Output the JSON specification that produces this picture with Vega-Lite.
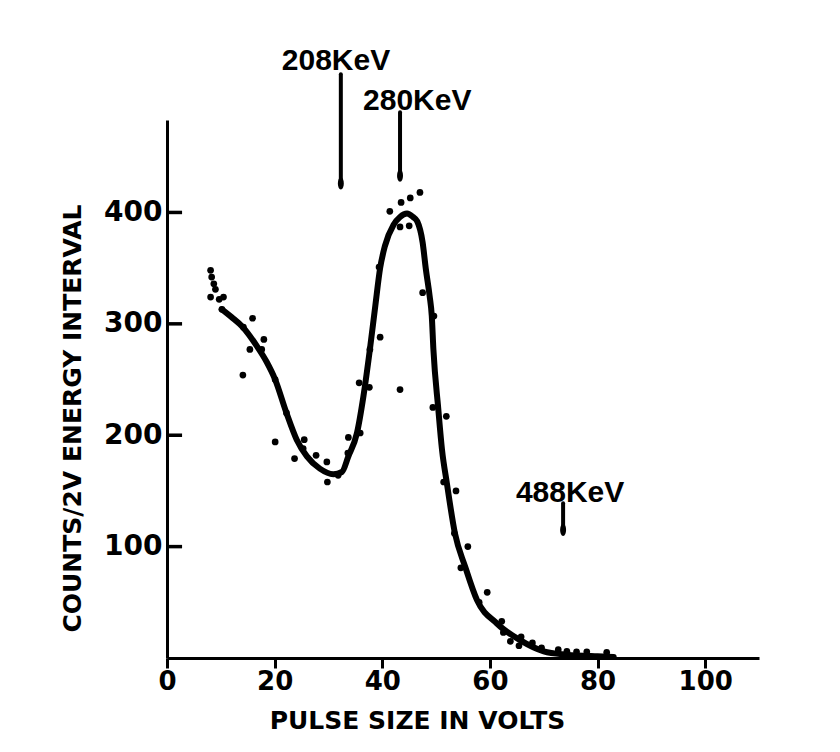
{
  "$schema": "https://vega.github.io/schema/vega-lite/v6.json",
  "width": 592,
  "height": 538,
  "autosize": "none",
  "padding": {"left": 167, "top": 120, "right": 81, "bottom": 94},
  "background": "white",
  "config": {"view": {"stroke": null}},
  "datasets": {
    "points": [
      {"x": 8.1, "y": 348}, {"x": 8.3, "y": 342}, {"x": 8.7, "y": 336}, {"x": 9.0, "y": 331},
      {"x": 8.1, "y": 324}, {"x": 9.7, "y": 322}, {"x": 10.5, "y": 324}, {"x": 10.2, "y": 313},
      {"x": 14.2, "y": 297}, {"x": 15.9, "y": 305}, {"x": 15.4, "y": 277}, {"x": 17.6, "y": 277},
      {"x": 18.0, "y": 286}, {"x": 14.1, "y": 254}, {"x": 20.1, "y": 250}, {"x": 22.2, "y": 220},
      {"x": 20.1, "y": 194}, {"x": 25.5, "y": 196}, {"x": 25.3, "y": 188}, {"x": 23.7, "y": 179},
      {"x": 27.7, "y": 182}, {"x": 29.7, "y": 176}, {"x": 29.8, "y": 158}, {"x": 31.8, "y": 164},
      {"x": 33.6, "y": 184}, {"x": 33.7, "y": 198}, {"x": 35.9, "y": 202}, {"x": 35.7, "y": 247},
      {"x": 37.6, "y": 243}, {"x": 37.7, "y": 277}, {"x": 39.6, "y": 288}, {"x": 39.4, "y": 351},
      {"x": 43.3, "y": 241}, {"x": 41.4, "y": 401}, {"x": 43.5, "y": 409}, {"x": 45.2, "y": 413},
      {"x": 47.0, "y": 418}, {"x": 43.3, "y": 387}, {"x": 45.0, "y": 388}, {"x": 47.5, "y": 328},
      {"x": 49.6, "y": 307}, {"x": 49.4, "y": 225}, {"x": 51.9, "y": 217}, {"x": 51.4, "y": 158},
      {"x": 53.7, "y": 150}, {"x": 53.4, "y": 112}, {"x": 55.9, "y": 100}, {"x": 54.6, "y": 81},
      {"x": 59.5, "y": 59}, {"x": 58.0, "y": 50}, {"x": 62.2, "y": 33}, {"x": 62.5, "y": 23},
      {"x": 63.8, "y": 15}, {"x": 65.8, "y": 19}, {"x": 65.4, "y": 11}, {"x": 67.9, "y": 13.5},
      {"x": 69.6, "y": 9}, {"x": 72.7, "y": 7.5}, {"x": 74.3, "y": 6}, {"x": 76.1, "y": 5.5},
      {"x": 78.0, "y": 5.5}, {"x": 81.7, "y": 5}
    ],
    "curve": [
      {"x": 10.2, "y": 313}, {"x": 12, "y": 306}, {"x": 14.1, "y": 297}, {"x": 16.7, "y": 280},
      {"x": 18.5, "y": 266}, {"x": 20.1, "y": 250}, {"x": 22.2, "y": 220}, {"x": 24.1, "y": 196},
      {"x": 26.0, "y": 181}, {"x": 28.4, "y": 170}, {"x": 30.9, "y": 165}, {"x": 32.5, "y": 167},
      {"x": 33.7, "y": 181}, {"x": 35.3, "y": 202}, {"x": 36.5, "y": 235}, {"x": 37.7, "y": 277},
      {"x": 38.7, "y": 316}, {"x": 39.6, "y": 350}, {"x": 40.5, "y": 370}, {"x": 42.1, "y": 389},
      {"x": 43.3, "y": 396}, {"x": 44.6, "y": 399}, {"x": 45.7, "y": 396}, {"x": 46.5, "y": 392},
      {"x": 47.5, "y": 373}, {"x": 48.1, "y": 349}, {"x": 48.8, "y": 325}, {"x": 49.2, "y": 307},
      {"x": 49.5, "y": 277}, {"x": 50.4, "y": 224}, {"x": 51.1, "y": 187}, {"x": 52.0, "y": 157},
      {"x": 53.5, "y": 112}, {"x": 55.4, "y": 82}, {"x": 57.6, "y": 52}, {"x": 61.3, "y": 31},
      {"x": 65.6, "y": 16}, {"x": 70.0, "y": 6}, {"x": 74.3, "y": 3}, {"x": 80, "y": 1.5},
      {"x": 83, "y": 1}
    ],
    "arrows": [
      {"label": "208KeV", "x": 32.3, "top": 524, "bot": 426, "tx": 31.4, "ty": 528},
      {"label": "280KeV", "x": 43.3, "top": 490, "bot": 433, "tx": 46.5, "ty": 492.4},
      {"label": "488KeV", "x": 73.6, "top": 139, "bot": 115, "tx": 74.9, "ty": 140.2}
    ],
    "yticks": [{"y": 100}, {"y": 200}, {"y": 300}, {"y": 400}]
  },
  "layer": [
    {
      "data": {"name": "curve"},
      "mark": {"type": "line", "color": "black", "strokeWidth": 6, "strokeCap": "round", "interpolate": "monotone"},
      "encoding": {
        "x": {
          "field": "x", "type": "quantitative",
          "scale": {"domain": [0, 110], "nice": false, "zero": false},
          "axis": {
            "values": [0, 20, 40, 60, 80, 100],
            "title": "PULSE SIZE IN VOLTS",
            "titleFont": "DejaVu Sans", "titleFontWeight": "bold", "titleFontSize": 25, "titleColor": "black",
            "titleX": 250, "titleY": 70, "titleBaseline": "alphabetic", "titleAnchor": null, "titleAlign": "center",
            "labelFont": "DejaVu Sans", "labelFontWeight": "bold", "labelFontSize": 26, "labelColor": "black",
            "labelPadding": 0, "labelFlush": false,
            "tickSize": 10, "tickWidth": 3, "tickColor": "black",
            "domainWidth": 3, "domainColor": "black", "grid": false
          }
        },
        "y": {
          "field": "y", "type": "quantitative",
          "scale": {"domain": [0, 483], "nice": false},
          "axis": {
            "values": [100, 200, 300, 400],
            "title": "COUNTS/2V ENERGY INTERVAL",
            "titleFont": "DejaVu Sans", "titleFontWeight": "bold", "titleFontSize": 25, "titleColor": "black",
            "titleX": -87, "titleY": 298, "titleAngle": 270, "titleBaseline": "alphabetic", "titleAlign": "center", "titleAnchor": null,
            "labelFont": "DejaVu Sans", "labelFontWeight": "bold", "labelFontSize": 28, "labelColor": "black",
            "labelPadding": 5,
            "ticks": false, "tickSize": 0,
            "domainWidth": 3, "domainColor": "black", "grid": false
          }
        }
      }
    },
    {
      "data": {"name": "yticks"},
      "mark": {"type": "rule", "color": "black", "strokeWidth": 3.5},
      "encoding": {
        "x": {"datum": 0, "type": "quantitative"},
        "x2": {"datum": 2.8},
        "y": {"field": "y", "type": "quantitative"}
      }
    },
    {
      "data": {"name": "points"},
      "mark": {"type": "point", "shape": "circle", "filled": true, "color": "black", "size": 45, "opacity": 1},
      "encoding": {
        "x": {"field": "x", "type": "quantitative"},
        "y": {"field": "y", "type": "quantitative"}
      }
    },
    {
      "data": {"name": "arrows"},
      "mark": {"type": "rule", "color": "black", "strokeWidth": 4, "strokeCap": "round"},
      "encoding": {
        "x": {"field": "x", "type": "quantitative"},
        "y": {"field": "top", "type": "quantitative"},
        "y2": {"field": "bot"}
      }
    },
    {
      "data": {"name": "arrows"},
      "mark": {"type": "point", "filled": true, "color": "black", "opacity": 1, "size": 150,
               "shape": "M0,-1 C0.65,-1 0.65,1 0,1 C-0.65,1 -0.65,-1 0,-1 Z"},
      "encoding": {
        "x": {"field": "x", "type": "quantitative"},
        "y": {"field": "bot", "type": "quantitative"}
      }
    },
    {
      "data": {"name": "arrows"},
      "mark": {"type": "text", "font": "Liberation Sans", "fontWeight": "bold", "fontSize": 30, "color": "black", "align": "center", "baseline": "alphabetic"},
      "encoding": {
        "x": {"field": "tx", "type": "quantitative"},
        "y": {"field": "ty", "type": "quantitative"},
        "text": {"field": "label"}
      }
    }
  ]
}
